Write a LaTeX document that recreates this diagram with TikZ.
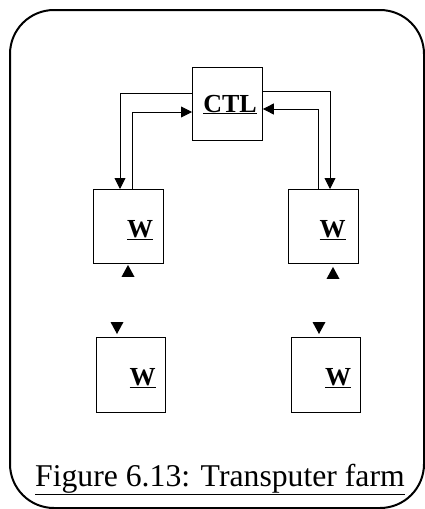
\documentclass[tikz,border=0pt]{standalone}
\usepackage{fontspec}
\setmainfont{Liberation Serif}
\usetikzlibrary{arrows.meta,calc}
\begin{document}
\begin{tikzpicture}[x=1pt,y=-1pt,
  box/.style={draw,line width=0.9pt,minimum width=70pt,minimum height=74pt,inner sep=0pt,anchor=north west},
  lbl/.style={anchor=base,inner sep=0pt,font=\fontsize{26}{30}\selectfont\bfseries},
  conn/.style={line width=0.9pt},
  arr/.style={conn,-{Triangle[length=11pt,width=11pt]}},
  tri/.style={fill=black}]
\useasboundingbox (0,0) rectangle (425,509);
\draw[line width=2pt,rounded corners=44pt] (10,10) rectangle (424,508);
% boxes
\node[box,minimum height=73pt] (ctl) at (192,67) {};
\node[box] (wl) at (93,189) {};
\node[box] (wr) at (288,189) {};
\node[box,minimum width=69pt,minimum height=75pt] (wll) at (96,337) {};
\node[box,minimum width=69pt,minimum height=75pt] (wrl) at (291,337) {};
% labels
\node[lbl] (tctl) at (230,112) {\underline{CTL}};
\node[lbl] (twl) at (140,237) {\underline{W}};
\node[lbl] (twr) at (332.5,237) {\underline{W}};
\node[lbl] (twll) at (142.5,385) {\underline{W}};
\node[lbl] (twrl) at (338,385) {\underline{W}};
% connectors
\draw[arr] (ctl.west |- 0,93) -| (wl.north -| 120,0);
\draw[arr] (wl.north -| 132,0) |- (ctl.west |- 0,112);
\draw[arr] (ctl.east |- 0,91) -| (wr.north -| 330,0);
\draw[arr] (wr.north -| 318,0) |- (ctl.east |- 0,109);
% triangles
\fill[tri] ($(wl.south -| 128,0)+(0,1)$) -- ++(-6.5,12) -- ++(13,0) -- cycle;
\fill[tri] ($(wr.south -| 333,0)+(0,3)$) -- ++(-6.5,12) -- ++(13,0) -- cycle;
\fill[tri] ($(wll.north -| 117,0)+(0,-3)$) -- ++(-6.5,-12) -- ++(13,0) -- cycle;
\fill[tri] ($(wrl.north -| 319,0)+(0,-3)$) -- ++(-6.5,-12) -- ++(13,0) -- cycle;
% caption
\node[anchor=base west,inner sep=0pt,font=\fontsize{31.7}{36}\selectfont] (cap) at (35,486) {\underline{Figure 6.13: Transputer farm}};
\end{tikzpicture}
\end{document}
